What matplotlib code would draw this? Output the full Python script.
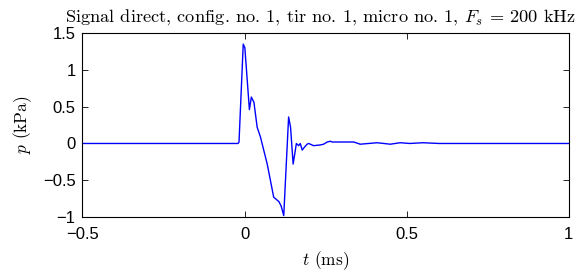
import matplotlib
matplotlib.use("Agg")
import matplotlib.pyplot as plt

plt.rcParams["mathtext.fontset"] = "cm"
plt.rcParams["axes.unicode_minus"] = True

# pressure signal (t in ms, p in kPa)
t_ms = [-0.5, -0.35, -0.30, -0.02, -0.017, -0.004, 0.001, 0.015, 0.021, 0.029,
        0.039, 0.049, 0.070, 0.090, 0.106, 0.113, 0.121, 0.136, 0.142, 0.150,
        0.160, 0.167, 0.172, 0.178, 0.185, 0.193, 0.198, 0.213, 0.234, 0.244,
        0.255, 0.265, 0.270, 0.296, 0.337, 0.357, 0.409, 0.45, 0.48, 0.51,
        0.55, 0.60, 0.70, 0.80, 0.90, 1.0]
p_kpa = [0.0, 0.0, 0.0, 0.0, 0.02, 1.35, 1.30, 0.46, 0.63, 0.56,
         0.22, 0.09, -0.28, -0.73, -0.79, -0.85, -0.98, 0.36, 0.22, -0.28,
         0.0, -0.03, 0.0, -0.09, -0.05, -0.01, 0.0, -0.03, -0.02, -0.01,
         0.02, 0.03, 0.02, 0.02, 0.02, -0.01, 0.01, -0.01, 0.01, 0.0,
         0.01, 0.0, 0.0, 0.0, 0.0, 0.0]

x_ticks = [-0.5, 0, 0.5, 1]
y_ticks = [-1, -0.5, 0, 0.5, 1, 1.5]

fig = plt.figure(figsize=(5.85, 2.71), dpi=100)
ax = fig.add_axes([0.141, 0.199, 0.831, 0.679])
ax.plot(t_ms, p_kpa, color="#0000ff", lw=1.0)

ax.set_xlim(-0.5, 1)
ax.set_ylim(-1, 1.5)
ax.set_xticks(x_ticks)
ax.set_yticks(y_ticks)
ax.set_xticklabels(["\u22120.5", "0", "0.5", "1"])
ax.set_yticklabels(["\u22121", "\u22120.5", "0", "0.5", "1", "1.5"])
ax.tick_params(direction="in", top=True, right=True, length=4, width=0.6,
               labelsize=12)
ax.tick_params(axis="x", pad=7.5)
ax.tick_params(axis="y", pad=5)
for lab in ax.get_xticklabels() + ax.get_yticklabels():
    lab.set_fontfamily("Liberation Sans")
for s in ax.spines.values():
    s.set_linewidth(0.8)

ax.set_title(r"Signal direct, config. no. 1, tir no. 1, micro no. 1, $F_s$ = 200 kHz",
             fontfamily="cmr10", fontsize=13.2, pad=8.5, x=0.49)
ax.set_xlabel(r"$t$ (ms)", fontfamily="cmr10", fontsize=12.5)
ax.set_ylabel(r"$p$ (kPa)", fontfamily="cmr10", fontsize=12.5)
ax.xaxis.set_label_coords(0.5, -0.175)
ax.yaxis.set_label_coords(-0.100, 0.5)

fig.savefig("out.png", dpi=100)
